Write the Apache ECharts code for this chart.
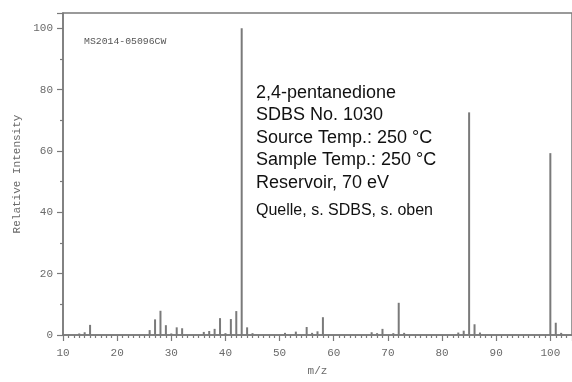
<!DOCTYPE html>
<html>
<head>
<meta charset="utf-8">
<script src="https://cdn.jsdelivr.net/npm/echarts@6/dist/echarts.min.js"></script>
<style>
html,body{margin:0;padding:0;background:#fff;}
#c{width:572px;height:382px;}
</style>
</head>
<body>
<div id="c"></div>
<script>
// m/z values and relative intensities
const mz =        [13, 14, 15, 26, 27, 28, 29, 30, 31, 32, 36, 37, 38, 39, 40, 41, 42, 43, 44, 45, 51, 53, 55, 56, 57, 58, 67, 68, 69, 71, 72, 73, 83, 84, 85, 86, 87, 100, 101, 102];
const intensity = [0.5, 0.9, 3.3, 1.6, 5.1, 7.9, 3.2, 0.5, 2.5, 2.2, 1.0, 1.3, 2.0, 5.5, 0.6, 5.2, 7.8, 100, 2.5, 0.6, 0.7, 1.1, 2.6, 0.7, 1.2, 5.8, 0.9, 0.6, 2.0, 0.6, 10.5, 0.7, 0.8, 1.4, 72.6, 3.5, 0.8, 59.3, 4.0, 0.7];
const xTicks = [10, 20, 30, 40, 50, 60, 70, 80, 90, 100];
const yTicks = [0, 20, 40, 60, 80, 100];
const sampleId = 'MS2014-05096CW';
const infoLines = ['2,4-pentanedione', 'SDBS No. 1030', 'Source Temp.: 250 °C', 'Sample Temp.: 250 °C', 'Reservoir, 70 eV'];
const noteLine = 'Quelle, s. SDBS, s. oben';

const chart = echarts.init(document.getElementById('c'));
const mono = '"Liberation Mono", "DejaVu Sans Mono", monospace';
const axisGray = '#7a7a7a';
const labelGray = '#6a6a6a';

const graphics = [{
  type: 'text', left: 84, top: 36,
  style: { text: sampleId, font: '9.8px ' + mono, fill: '#555' }
}];
infoLines.forEach(function (t, i) {
  graphics.push({
    type: 'text', x: 256, y: 93 + i * 22.5,
    style: { text: t, font: '18px "Liberation Sans", Arial, sans-serif', fill: '#111', textVerticalAlign: 'middle' }
  });
});
graphics.push({
  type: 'text', x: 256, y: 211,
  style: { text: noteLine, font: '16px "Liberation Sans", Arial, sans-serif', fill: '#111', textVerticalAlign: 'middle' }
});

chart.setOption({
  animation: false,
  backgroundColor: '#fff',
  grid: { left: 63, right: 0, top: 13, bottom: 39, show: true, borderColor: axisGray, borderWidth: 1.5 },
  xAxis: {
    type: 'value', min: xTicks[0], max: 104, interval: 10,
    name: 'm/z', nameLocation: 'middle', nameGap: 31,
    nameTextStyle: { color: labelGray, fontFamily: mono, fontSize: 11 },
    axisLine: { show: true, lineStyle: { color: axisGray, width: 1.5 } },
    axisTick: { show: true, length: 6, lineStyle: { color: axisGray, width: 1.2 } },
    minorTick: { show: true, splitNumber: 10, length: 3, lineStyle: { color: axisGray, width: 1.2 } },
    axisLabel: { color: labelGray, fontFamily: mono, fontSize: 11, margin: 13, showMaxLabel: false,
      formatter: function (v) { return xTicks.indexOf(v) >= 0 ? String(v) : ''; } },
    splitLine: { show: false }
  },
  yAxis: {
    type: 'value', min: yTicks[0], max: 105, interval: 20,
    name: 'Relative Intensity', nameLocation: 'middle', nameGap: 35, nameRotate: 90,
    nameTextStyle: { color: labelGray, fontFamily: mono, fontSize: 11 },
    axisLine: { show: true, lineStyle: { color: axisGray, width: 1.5 } },
    axisTick: { show: true, length: 6, lineStyle: { color: axisGray, width: 1.2 } },
    minorTick: { show: true, splitNumber: 2, length: 3, lineStyle: { color: axisGray, width: 1.2 } },
    axisLabel: { color: labelGray, fontFamily: mono, fontSize: 11, margin: 10, showMaxLabel: false,
      formatter: function (v) { return yTicks.indexOf(v) >= 0 ? String(v) : ''; } },
    splitLine: { show: false }
  },
  series: [{
    type: 'bar',
    barWidth: 2,
    itemStyle: { color: '#7a7a7a' },
    data: mz.map(function (m, i) { return [m, intensity[i]]; })
  }],
  graphic: graphics
});
</script>
</body>
</html>
